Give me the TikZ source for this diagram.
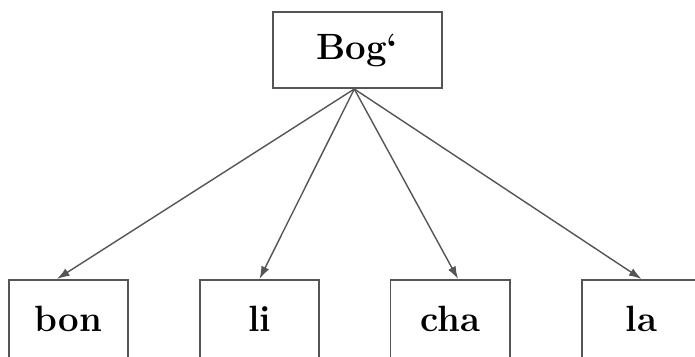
\documentclass[tikz,border=0pt]{standalone}
\usetikzlibrary{arrows.meta}
\definecolor{linegrey}{RGB}{85,85,85}
\tikzset{
  wordbox/.style={draw=linegrey, line width=1.4pt, minimum width=2.975cm,
    minimum height=1.95cm, font=\fontsize{26}{30}\selectfont\bfseries},
  rootbox/.style={wordbox, minimum width=4.225cm, minimum height=1.9cm},
  branch/.style={draw=linegrey, line width=1pt, -{Latex[length=9pt,width=6pt]}}
}
\begin{document}
\begin{tikzpicture}[x=0.025cm,y=-0.025cm]
  % frame of the picture
  \useasboundingbox (0,0) rectangle (695,356);
  \clip (0,0) rectangle (695,356);
  % root word
  \node[rootbox] (bog) at (357.5,50) {Bog`};
  % parts
  \node[wordbox] (bon) at (68.5,319) {bon};
  \node[wordbox] (li) at (259.5,319) {li};
  \node[wordbox] (cha) at (450,319) {cha};
  \node[wordbox] (la) at (641.5,319) {la};
  % arrows
  \draw[branch] ([xshift=-0.08cm]bog.south) -- ([xshift=-0.29cm]bon.north);
  \draw[branch] ([xshift=-0.08cm]bog.south) -- (li.north);
  \draw[branch] ([xshift=-0.08cm]bog.south) -- ([xshift=0.2cm]cha.north);
  \draw[branch] ([xshift=-0.08cm]bog.south) -- (la.north);
\end{tikzpicture}
\end{document}
